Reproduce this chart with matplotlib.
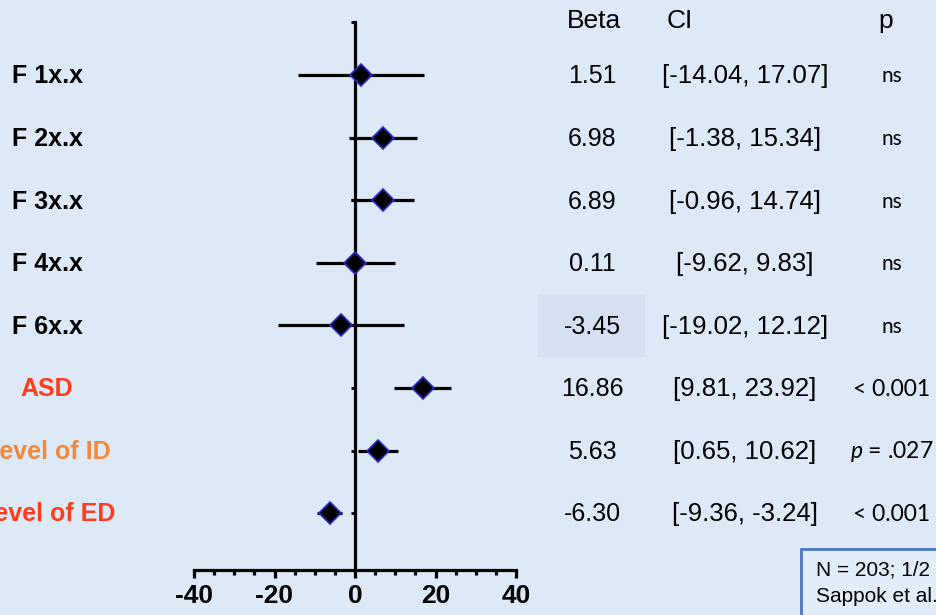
import matplotlib.pyplot as plt
import matplotlib.transforms as mtransforms
from matplotlib.patches import Rectangle
from matplotlib.ticker import MultipleLocator

plt.rcParams['font.family'] = ['Liberation Sans', 'DejaVu Sans']
plt.rcParams['mathtext.fontset'] = 'custom'
plt.rcParams['mathtext.it'] = 'Lato:italic'
plt.rcParams['mathtext.rm'] = 'Lato'
plt.rcParams['axes.unicode_minus'] = False

# Data
labels = ['F 1x.x', 'F 2x.x', 'F 3x.x', 'F 4x.x', 'F 6x.x', 'ASD', 'Level of ID', 'Level of ED']
label_colors = ['black'] * 5 + ['#ff3c1e', '#f0893c', '#ff3c1e']
beta = [1.51, 6.98, 6.89, 0.11, -3.45, 16.86, 5.63, -6.30]
ci_low = [-14.04, -1.38, -0.96, -9.62, -19.02, 9.81, 0.65, -9.36]
ci_high = [17.07, 15.34, 14.74, 9.83, 12.12, 23.92, 10.62, -3.24]
p_text = ['ns'] * 5 + ['< 0.001', '$p$ = .027', '< 0.001']

bg = '#dde9f6'
W, H = 936, 615
fig = plt.figure(figsize=(W / 100, H / 100), dpi=100, facecolor=bg)
ax = fig.add_axes([194 / W, 1 - 570 / H, (516 - 194) / W, (570 - 22) / H])
ax.set_facecolor(bg)

rows = list(range(len(labels)))
ytop = -0.85
ax.set_ylim(7.91, ytop)
ax.set_xlim(-40, 40)

# error bars and diamonds
for y, b, lo, hi in zip(rows, beta, ci_low, ci_high):
    ax.plot([lo, hi], [y, y], color='black', lw=2.3, solid_capstyle='butt', zorder=3)
ax.plot(beta, rows, linestyle='none', marker='D', markersize=11,
        markerfacecolor='black', markeredgecolor='#2a2ad0', markeredgewidth=1.2, zorder=4)

# axes styling
for s in ['top', 'right']:
    ax.spines[s].set_visible(False)
ax.spines['left'].set_position(('data', 0))
ax.spines['left'].set_linewidth(2.3)
ax.spines['bottom'].set_linewidth(2.3)
ax.set_yticks([ytop] + rows)
ax.set_yticklabels([])
ax.tick_params(axis='y', length=3, width=2.0, direction='out')
ax.xaxis.set_major_locator(MultipleLocator(20))
ax.xaxis.set_minor_locator(MultipleLocator(5))
ax.tick_params(axis='x', which='major', length=6, width=2.3, pad=4,
               labelsize=19)
ax.tick_params(axis='x', which='minor', length=3.5, width=2.3)
for t in ax.get_xticklabels():
    t.set_fontweight('bold')

trans = mtransforms.blended_transform_factory(fig.transFigure, ax.transData)

# highlight behind -3.45
ax.add_patch(Rectangle((538 / W, 3.5), 107 / W, 1.0, transform=trans,
                       facecolor='#d6e0f2', edgecolor='none', zorder=0, clip_on=False))

# left labels
for y, lab, c in zip(rows, labels, label_colors):
    ax.text(47 / W, y + 0.02, lab, transform=trans, ha='center', va='center',
            fontsize=18, fontweight='bold', color=c, clip_on=False)

# headers
hy = -0.86
ax.text(594 / W, hy, 'Beta', transform=trans, ha='center', va='center', fontsize=19)
ax.text(680 / W, hy, 'CI', transform=trans, ha='center', va='center', fontsize=19)
ax.text(886 / W, hy, 'p', transform=trans, ha='center', va='center', fontsize=19)

# value columns
for y, b, lo, hi, p in zip(rows, beta, ci_low, ci_high, p_text):
    ax.text(592 / W, y + 0.02, f'{b:.2f}', transform=trans, ha='center', va='center',
            fontsize=18)
    ax.text(745 / W, y + 0.02, f'[{lo:.2f}, {hi:.2f}]', transform=trans, ha='center',
            va='center', fontsize=18.5)
    ax.text(892 / W, y + 0.02, p, transform=trans, ha='center', va='center',
            fontsize=15 if p == 'ns' else 16.5, family='Lato')

# note box in the lower right, cut off by the figure edge
fig.patches.append(Rectangle((801 / W, -0.05), 0.3, 1 - 549 / H + 0.05,
                             transform=fig.transFigure, facecolor='#e2edf9',
                             edgecolor='#4a74c4', lw=2, zorder=0))
fig.text(816 / W, 1 - 575 / H, 'N = 203; 1/2', fontsize=15, va='baseline')
fig.text(816 / W, 1 - 602 / H, 'Sappok et al.', fontsize=15, va='baseline')

fig.savefig('out.png', dpi=100, facecolor=bg)
